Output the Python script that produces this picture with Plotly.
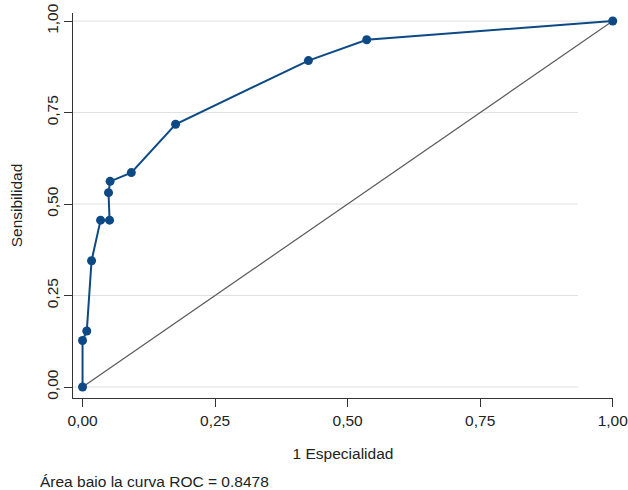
import plotly.graph_objects as go

# ROC data: 1 - especificidad (x) and sensibilidad (y)
fpr = [0.0, 0.0, 0.008, 0.017, 0.034, 0.051, 0.049, 0.052, 0.092, 0.1755, 0.426, 0.536, 1.0]
tpr = [0.0, 0.127, 0.153, 0.345, 0.456, 0.456, 0.531, 0.562, 0.586, 0.718, 0.892, 0.949, 1.0]
ref_x = [0.0, 1.0]
ref_y = [0.0, 1.0]
tick_vals = [0.0, 0.25, 0.5, 0.75, 1.0]
auc_text = "Área baio la curva ROC = 0.8478"

FONT = "Liberation Sans, Arial, sans-serif"
FS = 15.5
BLUE = "#0d4a85"

fig = go.Figure()
fig.add_trace(go.Scatter(x=ref_x, y=ref_y, mode="lines",
                         line=dict(color="#5a5a5a", width=1.2),
                         hoverinfo="skip", showlegend=False))
fig.add_trace(go.Scatter(x=fpr, y=tpr, mode="lines+markers",
                         line=dict(color=BLUE, width=2),
                         marker=dict(color=BLUE, size=9),
                         cliponaxis=False, showlegend=False))

# horizontal grid lines (lower ones stop short of the right edge as in reference)
for v in tick_vals:
    fig.add_shape(type="line", xref="paper", yref="y", x0=0,
                  x1=1.0 if v == 1.0 else 0.935, y0=v, y1=v,
                  line=dict(color="#e1e1e1", width=1), layer="below")

fig.update_layout(
    width=628, height=490,
    margin=dict(l=73, r=15, t=13, b=92, autoexpand=False),
    paper_bgcolor="white", plot_bgcolor="white",
    separators=",.",
    font=dict(family=FONT, size=FS, color="#222"),
    xaxis=dict(range=[-0.018, 1.0005], tickvals=tick_vals, tickformat=".2f",
               showgrid=False, zeroline=False, showline=True,
               linecolor="#333", linewidth=1.3, automargin=False,
               ticks="outside", ticklen=8, tickcolor="#333", tickwidth=1.3,
               tickfont=dict(size=FS), ticklabeloverflow="allow",
               title=dict(text="1 Especialidad", font=dict(size=FS), standoff=20)),
    yaxis=dict(range=[-0.03, 1.022], tickvals=tick_vals, tickformat=".2f",
               showgrid=False, zeroline=False, showline=True,
               linecolor="#333", linewidth=1.3, automargin=False,
               ticks="outside", ticklen=8, tickcolor="#333", tickwidth=1.3,
               tickangle=-90, tickfont=dict(size=FS), ticklabeloverflow="allow",
               title=dict(text="Sensibilidad", font=dict(size=FS), standoff=17)),
    annotations=[dict(text=auc_text, xref="paper", yref="paper",
                      x=-35/540, y=-83/385, xanchor="left", yanchor="middle",
                      showarrow=False, font=dict(size=FS))],
)

fig.write_html("out.html", config={"displayModeBar": False},
               post_script="document.body.style.margin='0';")
